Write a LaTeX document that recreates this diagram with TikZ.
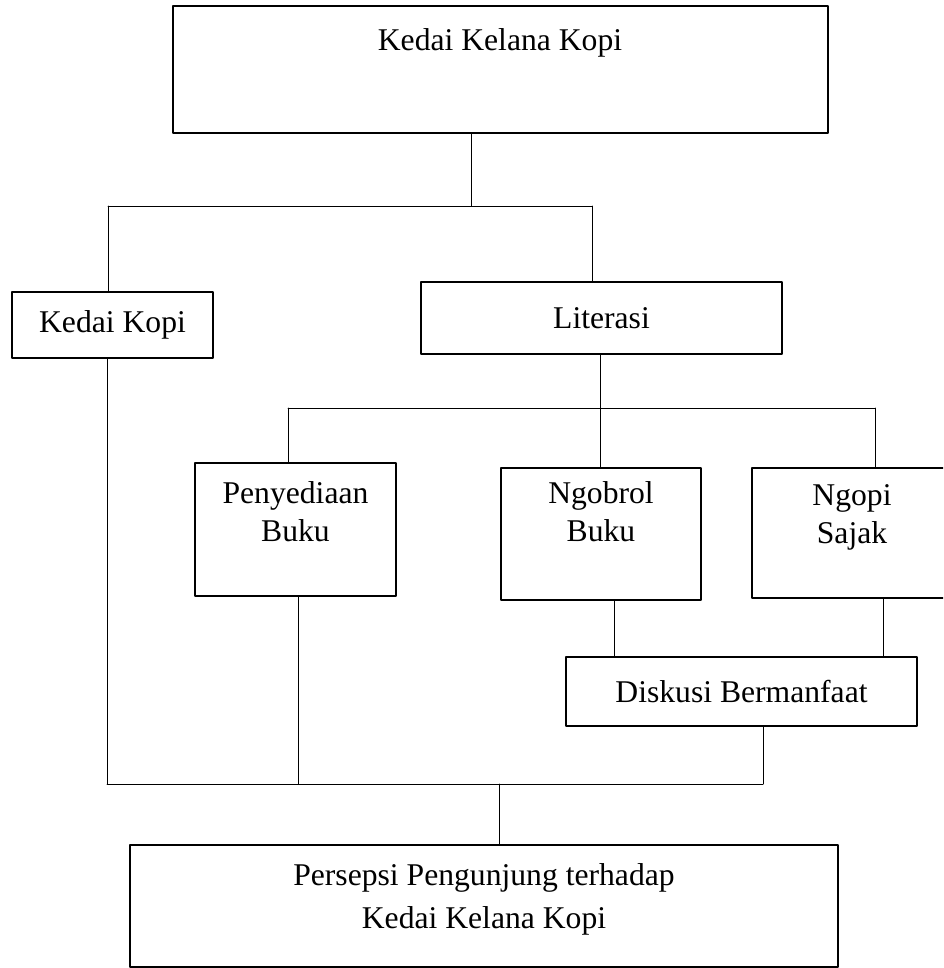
\documentclass[tikz,border=0pt]{standalone}
\usepackage{fontspec}
\setmainfont{Liberation Serif}
\tikzset{
  kotak/.style={draw, line width=1.4pt, inner sep=0pt, font=\fontsize{22.5}{27}\selectfont},
  garis/.style={line width=0.6pt},
  teks/.style={font=\fontsize{22.5}{27}\selectfont, align=center, inner sep=0pt}
}
\begin{document}
\begin{tikzpicture}[line cap=round,line join=round,x=0.025cm,y=-0.025cm]
	\clip (0,0) rectangle (943,968);
	% kotak-kotak
	\node[kotak,minimum width=16.375cm,minimum height=3.175cm] (kelana) at (500.5,69.5) {};
	\node[teks,anchor=base] (kelanaT) at (500,50) {Kedai Kelana Kopi};
	\node[kotak,minimum width=5.025cm,minimum height=1.65cm] (kedai) at (112.5,325) {Kedai Kopi};
	\node[kotak,minimum width=9.025cm,minimum height=1.8cm] (literasi) at (601.5,318) {Literasi};
	\node[kotak,minimum width=5.025cm,minimum height=3.325cm] (buku) at (295.5,529.5) {};
	\node[teks,anchor=base] (bukuT) at (295.5,541) {Penyediaan\\Buku};
	\node[kotak,minimum width=5.0cm,minimum height=3.3cm] (ngobrol) at (601,534) {};
	\node[teks,anchor=base] (ngobrolT) at (601,541) {Ngobrol\\Buku};
	\node[kotak,minimum width=5.0cm,minimum height=3.25cm] (ngopi) at (852,533) {};
	\node[teks,anchor=base] (ngopiT) at (852,543) {Ngopi\\Sajak};
	\node[kotak,minimum width=8.775cm,minimum height=1.725cm] (diskusi) at (741.5,691.5) {Diskusi Bermanfaat};
	\node[kotak,minimum width=17.7cm,minimum height=3.05cm] (persepsi) at (484,906) {};
	\node[teks,anchor=base,font=\fontsize{22.5}{30}\selectfont] (persepsiT) at (484,928) {Persepsi Pengunjung terhadap\\Kedai Kelana Kopi};
	% titik cabang
	\coordinate (a1) at (471,206);
	\coordinate (a2) at (108,206);
	\coordinate (a3) at (592,206);
	\coordinate (b0) at (600,408);
	\coordinate (b1) at (288,408);
	\coordinate (b2) at (875,408);
	\coordinate (c1) at (614,630);
	\coordinate (c2) at (883,630);
	\coordinate (d1) at (107,784);
	\coordinate (d2) at (298,784);
	\coordinate (d3) at (763,784);
	\coordinate (d4) at (499,784);
	% garis
	\draw[garis] (a1 |- kelana.south) -- (a1);
	\draw[garis] (a2) -- (a3);
	\draw[garis] (a2) -- (a2 |- kedai.north);
	\draw[garis] (a3) -- (a3 |- literasi.north);
	\draw[garis] (literasi.south -| b0) -- (ngobrol.north -| b0);
	\draw[garis] (b1) -- (b2);
	\draw[garis] (b1) -- (b1 |- buku.north);
	\draw[garis] (b2) -- (b2 |- ngopi.north);
	\draw[garis] (ngobrol.south -| c1) -- (diskusi.north -| c1);
	\draw[garis] (ngopi.south -| c2) -- (diskusi.north -| c2);
	\draw[garis] (kedai.south -| d1) -- (d1);
	\draw[garis] (buku.south -| d2) -- (d2);
	\draw[garis] (diskusi.south -| d3) -- (d3);
	\draw[garis] (d1) -- (d3);
	\draw[garis] (d4) -- (d4 |- persepsi.north);
\end{tikzpicture}
\end{document}
